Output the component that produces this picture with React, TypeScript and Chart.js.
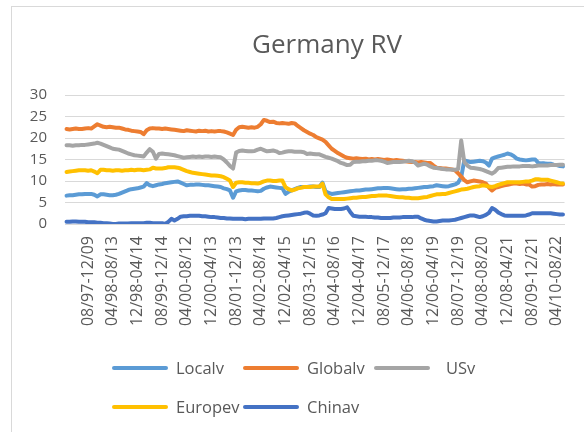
import React, { useEffect, useRef } from "react";
import { Chart, registerables } from "chart.js";

Chart.register(...registerables);

const chartTitle = "Germany RV";

const tickLabels = [
  "08/97-12/09", "04/98-08/13", "12/98-04/14", "08/99-12/14", "04/00-08/12",
  "12/00-04/13", "08/01-12/13", "04/02-08/14", "12/02-04/15", "08/03-12/15",
  "04/04-08/16", "12/04-04/17", "08/05-12/17", "04/06-08/18", "12/06-04/19",
  "08/07-12/19", "04/08-08/20", "12/08-04/21", "08/09-12/21", "04/10-08/22",
];

const localv = [
  6.6,6.7,6.7,6.8,6.9,6.9,7.0,7.0,7.0,6.8,
  6.4,6.9,6.9,6.8,6.7,6.7,6.8,7.0,7.3,7.6,
  7.9,8.1,8.2,8.3,8.5,8.7,9.5,9.0,8.8,9.0,
  9.2,9.3,9.5,9.6,9.7,9.8,9.9,9.6,9.3,9.0,
  9.1,9.1,9.2,9.2,9.1,9.0,9.0,8.9,8.8,8.7,
  8.6,8.3,8.1,7.8,6.1,7.6,7.8,7.9,7.9,7.8,
  7.8,7.7,7.6,7.7,8.2,8.5,8.7,8.6,8.5,8.4,
  8.3,7.0,7.5,7.8,8.1,8.4,8.6,8.6,8.6,8.7,
  8.7,8.6,8.6,9.6,7.6,7.2,7.0,7.1,7.2,7.3,
  7.4,7.5,7.6,7.7,7.8,7.8,7.9,8.0,8.0,8.1,
  8.2,8.3,8.3,8.4,8.4,8.3,8.2,8.1,8.0,8.1,
  8.1,8.2,8.2,8.3,8.4,8.5,8.6,8.6,8.7,8.8,
  9.0,8.9,8.8,8.7,8.8,9.0,9.2,9.6,10.9,14.8,
  14.6,14.4,14.5,14.6,14.7,14.6,14.3,13.6,15.2,15.5,
  15.7,15.9,16.1,16.4,16.2,15.8,15.2,15.0,14.9,14.8,
  14.9,15.0,15.0,14.2,14.1,14.1,14.0,14.0,13.8,13.7,
  13.5,13.4,
];

const globalv = [
  22.1,22.0,22.1,22.2,22.1,22.1,22.2,22.3,22.2,22.7,
  23.2,22.9,22.6,22.5,22.6,22.5,22.4,22.4,22.2,22.0,
  21.9,21.7,21.6,21.5,21.4,20.9,21.8,22.2,22.3,22.2,
  22.2,22.1,22.2,22.1,22.0,21.9,21.8,21.7,21.6,21.8,
  21.7,21.6,21.5,21.7,21.6,21.7,21.5,21.6,21.5,21.6,
  21.6,21.5,21.3,21.0,20.7,21.9,22.5,22.6,22.5,22.4,
  22.5,22.4,22.6,23.2,24.2,24.0,23.7,23.8,23.5,23.4,
  23.5,23.4,23.3,23.5,23.4,22.8,22.3,21.8,21.4,21.0,
  20.7,20.2,19.9,19.6,19.1,18.3,17.5,17.0,16.5,16.1,
  15.7,15.4,15.3,15.2,15.3,15.2,15.1,15.2,15.0,15.1,
  15.0,15.1,15.0,14.9,15.0,14.9,14.8,14.9,14.8,14.7,
  14.6,14.5,14.4,14.4,14.3,14.4,14.3,14.2,14.2,13.6,
  13.1,13.0,12.9,12.9,12.8,12.7,12.5,11.8,11.0,10.2,
  9.7,9.9,10.1,10.0,9.9,9.7,9.4,8.5,7.8,8.4,
  8.6,8.8,9.0,9.1,9.3,9.4,9.4,9.3,9.4,9.2,
  9.2,8.7,8.8,9.1,9.2,9.2,9.3,9.2,9.3,9.2,
  9.2,9.2,
];

const usv = [
  18.3,18.3,18.2,18.3,18.3,18.4,18.4,18.5,18.6,18.7,
  18.9,18.7,18.4,18.1,17.8,17.5,17.4,17.3,17.0,16.7,
  16.4,16.2,16.0,15.9,15.8,15.7,16.6,17.4,16.8,15.2,
  16.3,16.4,16.3,16.2,16.1,16.0,15.8,15.6,15.4,15.5,
  15.6,15.7,15.6,15.7,15.6,15.7,15.7,15.6,15.7,15.6,
  15.5,15.0,14.3,13.5,12.9,16.6,17.0,17.1,17.0,16.9,
  16.9,17.0,17.3,17.5,17.2,16.9,17.0,17.1,16.9,16.5,
  16.6,16.8,16.9,16.9,16.8,16.8,16.8,16.7,16.3,16.4,
  16.3,16.2,16.2,15.9,15.6,15.4,15.2,14.9,14.6,14.2,
  14.0,13.7,13.8,14.4,14.5,14.5,14.6,14.6,14.7,14.7,
  14.8,14.8,14.7,14.5,14.2,14.3,14.4,14.4,14.4,14.5,
  14.6,14.7,14.6,14.3,13.6,13.8,14.0,13.8,13.4,13.1,
  13.0,12.9,12.8,12.7,12.7,12.6,12.6,12.8,19.4,14.4,
  13.6,13.1,13.0,12.9,12.8,12.6,12.3,12.0,11.7,12.2,
  13.0,13.1,13.2,13.3,13.3,13.4,13.4,13.4,13.5,13.5,
  13.5,13.4,13.5,13.6,13.6,13.6,13.6,13.7,13.7,13.7,
  13.8,13.8,
];

const europev = [
  12.1,12.2,12.3,12.4,12.5,12.5,12.5,12.4,12.5,12.2,
  11.8,12.6,12.6,12.5,12.5,12.4,12.5,12.5,12.4,12.5,
  12.5,12.6,12.5,12.6,12.6,12.5,12.6,12.7,13.1,12.9,
  12.9,12.9,13.0,13.2,13.2,13.2,13.1,12.9,12.6,12.3,
  12.1,11.9,11.8,11.7,11.6,11.5,11.4,11.3,11.3,11.2,
  11.1,10.9,10.5,10.1,8.6,9.6,9.7,9.7,9.6,9.6,
  9.5,9.5,9.4,9.6,9.9,10.1,10.1,10.0,10.0,10.1,
  10.1,8.6,8.1,7.8,8.0,8.3,8.4,8.6,8.6,8.6,
  8.7,8.7,8.7,9.4,6.9,6.2,5.8,5.8,5.8,5.8,
  5.8,5.9,6.0,6.1,6.1,6.2,6.3,6.3,6.4,6.5,
  6.5,6.6,6.6,6.6,6.6,6.5,6.4,6.3,6.2,6.2,
  6.1,6.1,6.0,6.0,6.0,6.1,6.2,6.3,6.5,6.7,
  6.9,6.9,7.0,7.0,7.2,7.4,7.6,7.8,8.0,8.1,
  8.2,8.4,8.6,8.7,8.8,9.0,8.9,8.7,8.6,8.8,
  9.1,9.3,9.5,9.7,9.7,9.7,9.7,9.7,9.8,9.9,
  9.9,10.1,10.4,10.4,10.3,10.3,10.3,10.1,9.9,9.7,
  9.5,9.4,
];

const chinav = [
  0.5,0.5,0.6,0.6,0.5,0.5,0.5,0.4,0.4,0.4,
  0.3,0.3,0.2,0.2,0.1,0.0,0.0,0.1,0.1,0.1,
  0.1,0.2,0.2,0.2,0.2,0.2,0.3,0.3,0.2,0.2,
  0.2,0.2,0.0,0.5,1.2,0.8,1.2,1.7,1.8,1.8,
  1.9,1.9,1.9,1.9,1.8,1.8,1.7,1.6,1.6,1.5,
  1.4,1.4,1.3,1.3,1.2,1.2,1.2,1.2,1.1,1.2,
  1.2,1.2,1.2,1.2,1.3,1.3,1.3,1.3,1.4,1.6,
  1.8,1.9,2.0,2.1,2.2,2.3,2.4,2.6,2.7,2.4,
  2.0,1.9,2.0,2.2,2.5,3.7,3.6,3.5,3.5,3.5,
  3.6,3.9,2.8,1.9,1.8,1.7,1.7,1.7,1.6,1.6,
  1.5,1.5,1.4,1.4,1.4,1.4,1.5,1.5,1.5,1.6,
  1.6,1.6,1.6,1.7,1.7,1.3,1.0,0.8,0.7,0.6,
  0.6,0.7,0.8,0.8,0.8,0.9,1.0,1.2,1.4,1.6,
  1.8,2.0,2.0,1.8,1.6,1.8,2.1,2.6,3.7,3.3,
  2.7,2.3,2.0,1.9,1.9,1.9,1.9,1.9,1.9,2.0,
  2.2,2.5,2.5,2.5,2.5,2.5,2.5,2.5,2.4,2.3,
  2.2,2.2,
];

const seriesNames = ["Localv", "Globalv", "USv", "Europev", "Chinav"];
const seriesColors = ["#5B9BD5", "#ED7D31", "#A5A5A5", "#FFC000", "#4472C4"];
const seriesValues = [localv, globalv, usv, europev, chinav];

const LABEL_EVERY = 8;
const LABEL_START = 7;
const categories = localv.map((_, i) =>
  i >= LABEL_START && (i - LABEL_START) % LABEL_EVERY === 0
    ? tickLabels[(i - LABEL_START) / LABEL_EVERY] ?? ""
    : ""
);

const FONT = "'Open Sans', 'Noto Sans', sans-serif";
const TEXT = "#595959";

const titleLegendPlugin = {
  id: "excelTitleLegend",
  afterDraw(chart: any) {
    const ctx = chart.ctx;
    ctx.save();
    // title
    ctx.fillStyle = TEXT;
    ctx.font = `26px ${FONT}`;
    ctx.textAlign = "center";
    ctx.textBaseline = "alphabetic";
    ctx.fillText(chartTitle, 327, 53);
    // legend
    const cols = [112, 243, 374];
    const rows = [368, 407];
    const textGap = [8, 8, 16, 8, 8];
    ctx.font = `16.5px ${FONT}`;
    ctx.textAlign = "left";
    chart.data.datasets.forEach((ds: any, i: number) => {
      const x = cols[i % 3];
      const y = rows[Math.floor(i / 3)];
      ctx.strokeStyle = ds.borderColor;
      ctx.lineWidth = 4;
      ctx.lineCap = "round";
      ctx.beginPath();
      ctx.moveTo(x + 2, y);
      ctx.lineTo(x + 54, y);
      ctx.stroke();
      ctx.fillStyle = TEXT;
      ctx.fillText(ds.label, x + 56 + textGap[i], y + 6);
    });
    ctx.restore();
  },
};

export default function App() {
  const canvasRef = useRef<HTMLCanvasElement | null>(null);

  useEffect(() => {
    if (!canvasRef.current) return;
    const chart = new Chart(canvasRef.current, {
      type: "line",
      data: {
        labels: categories,
        datasets: seriesNames.map((name, k) => ({
          label: name,
          data: seriesValues[k],
          borderColor: seriesColors[k],
          backgroundColor: seriesColors[k],
          borderWidth: 4,
          pointRadius: 0,
          pointHoverRadius: 0,
          tension: 0,
          borderCapStyle: "round",
          borderJoinStyle: "round",
          fill: false,
          order: seriesNames.length - k,
        })),
      },
      options: {
        animation: false,
        responsive: false,
        maintainAspectRatio: false,
        layout: { padding: { left: 0, right: 19.5, top: 95, bottom: 98 } },
        plugins: {
          legend: { display: false },
          title: { display: false },
          tooltip: { enabled: false },
        },
        scales: {
          x: {
            type: "category",
            offset: true,
            grid: { display: false, drawTicks: false },
            border: { display: true, color: "#D9D9D9", width: 1 },
            ticks: {
              autoSkip: false,
              maxRotation: 90,
              minRotation: 90,
              padding: 12,
              color: TEXT,
              font: { family: FONT, size: 16 },
              callback: function (this: any, value: any) {
                return this.getLabelForValue(value);
              },
            },
            afterFit: (scale: any) => {
              scale.height = 110;
              scale.paddingLeft = 0;
              scale.paddingRight = 0;
            },
          },
          y: {
            min: 0,
            max: 30,
            ticks: {
              stepSize: 5,
              padding: 18,
              color: TEXT,
              font: { family: FONT, size: 15 },
            },
            grid: { color: "#D9D9D9", lineWidth: 1, drawTicks: false },
            border: { display: false },
            afterFit: (scale: any) => {
              scale.width = 65;
            },
          },
        },
      },
      plugins: [titleLegendPlugin],
    });
    return () => chart.destroy();
  }, []);

  return (
    <div
      style={{
        position: "fixed",
        left: 0,
        top: 0,
        width: 584,
        height: 432,
        overflow: "hidden",
        background: "#FFFFFF",
      }}
    >
      <div
        style={{
          position: "absolute",
          left: 11,
          top: 6,
          width: 800,
          height: 600,
          border: "1px solid #D9D9D9",
        }}
      />
      <canvas
        ref={canvasRef}
        width={584}
        height={432}
        style={{ position: "absolute", left: 0, top: 0, width: 584, height: 432 }}
      />
    </div>
  );
}
